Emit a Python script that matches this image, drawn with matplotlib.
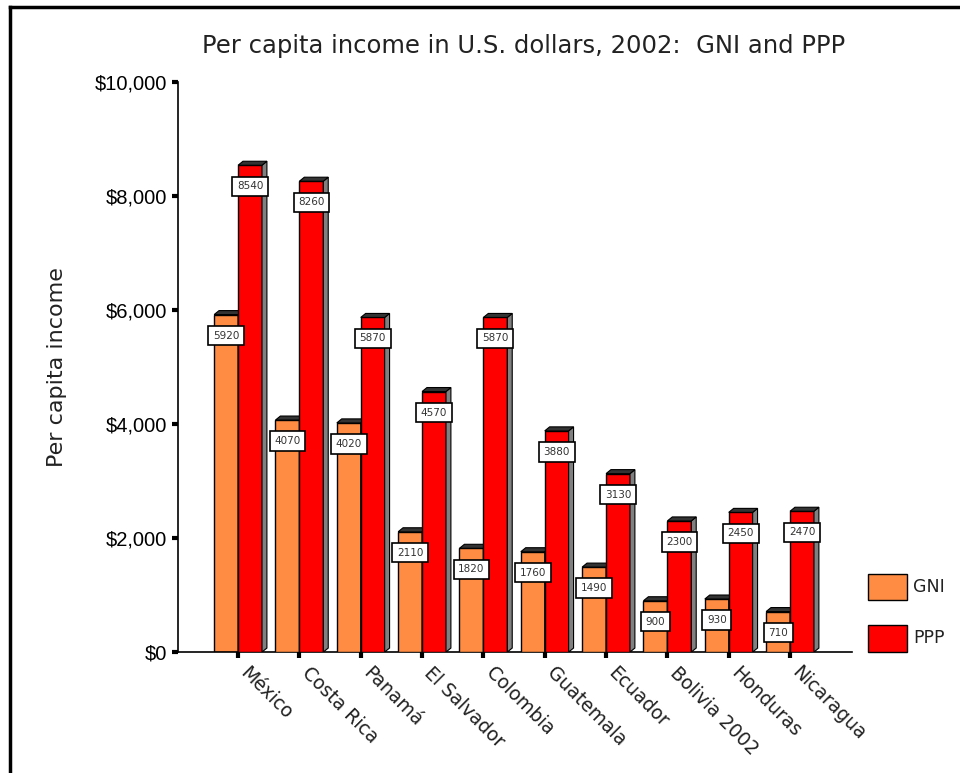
import numpy as np
import matplotlib.pyplot as plt
import matplotlib.transforms as mtransforms
from matplotlib.patches import Polygon
from matplotlib.ticker import FuncFormatter

countries = ['México', 'Costa Rica', 'Panamá', 'El Salvador', 'Colombia',
             'Guatemala', 'Ecuador', 'Bolivia 2002', 'Honduras', 'Nicaragua']
gni = [5920, 4070, 4020, 2110, 1820, 1760, 1490, 900, 930, 710]
ppp = [8540, 8260, 5870, 4570, 5870, 3880, 3130, 2300, 2450, 2470]

gni_color = '#ff8c42'
ppp_color = '#ff0000'

fig = plt.figure(figsize=(9.6, 7.73), dpi=100)
ax = fig.add_axes([0.1854, 0.1565, 0.7021, 0.7374])

x = np.arange(len(countries))
w = 0.39
dx = 0.08     # depth of the fake 3d, in x units
dy = 70       # depth in y units


def bar3d(ax, left, h, color, z):
    ax.bar(left, h, width=w, align='edge', color=color, edgecolor='black',
           linewidth=1.0, zorder=z)
    right = left + w
    side = Polygon([(right, 0), (right + dx, dy), (right + dx, h + dy), (right, h)],
                   closed=True, facecolor='#808080', edgecolor='black', lw=0.8, zorder=z)
    top = Polygon([(left, h), (left + dx, h + dy), (right + dx, h + dy), (right, h)],
                  closed=True, facecolor='#333333', edgecolor='black', lw=0.8, zorder=z)
    ax.add_patch(side)
    ax.add_patch(top)


for i in range(len(countries)):
    bar3d(ax, x[i] - w, gni[i], gni_color, 2 + 2 * i)
    bar3d(ax, x[i], ppp[i], ppp_color, 3 + 2 * i)

box = dict(boxstyle='square,pad=0.45', fc='white', ec='black', lw=1.2)
for i in range(len(countries)):
    ax.annotate(str(gni[i]), (x[i] - w / 2, gni[i]), xytext=(0, -21),
                textcoords='offset pixels', ha='center', va='center',
                fontsize=7.5, color='#333333', bbox=box, zorder=50)
    ax.annotate(str(ppp[i]), (x[i] + w / 2, ppp[i]), xytext=(0, -21),
                textcoords='offset pixels', ha='center', va='center',
                fontsize=7.5, color='#333333', bbox=box, zorder=50)

ax.set_xlim(-0.98, 10.01)
ax.set_ylim(0, 10000)
ax.set_yticks(range(0, 10001, 2000))
ax.yaxis.set_major_formatter(FuncFormatter(lambda v, p: '${:,.0f}'.format(v)))
ax.tick_params(axis='x', length=4, width=3, pad=6)
ax.tick_params(axis='y', length=4, width=3, pad=4)
for lab in ax.get_yticklabels():
    lab.set_fontfamily('Liberation Sans')
    lab.set_fontsize(14.5)

ax.set_xticks(x)
ax.set_xticklabels(countries, rotation=-45, ha='left', va='top',
                   rotation_mode='anchor', fontsize=13.5, color='#222222')
# nudge the slanted names to the right, like the original
shift = mtransforms.ScaledTranslation(12 / 100, 3 / 100, fig.dpi_scale_trans)
for lab in ax.get_xticklabels():
    lab.set_transform(lab.get_transform() + shift)

for s in ['top', 'right']:
    ax.spines[s].set_visible(False)
ax.spines['left'].set_linewidth(1.2)
ax.spines['bottom'].set_linewidth(1.2)

ax.set_ylabel('Per capita income', fontsize=16, color='#222222', labelpad=20)

fig.text(0.545, 0.94, 'Per capita income in U.S. dollars, 2002:  GNI and PPP',
         ha='center', va='center', fontsize=17.5, color='#222222')

# legend drawn by hand on the figure
for yb, lab, col in [(0.224, 'GNI', gni_color), (0.157, 'PPP', ppp_color)]:
    fig.patches.append(plt.Rectangle((0.904, yb), 0.041, 0.034, transform=fig.transFigure,
                                     facecolor=col, edgecolor='black', lw=1))
    fig.text(0.951, yb + 0.017, lab, ha='left', va='center', fontsize=12.5, color='#222222')

# outer frame (top and left edges)
fig.add_artist(plt.Line2D([0.0104, 0.0104], [0, 0.991], color='black', lw=2.5,
                          transform=fig.transFigure))
fig.add_artist(plt.Line2D([0.0104, 1.0], [0.991, 0.991], color='black', lw=2.5,
                          transform=fig.transFigure))

fig.savefig('out.png', dpi=100)
